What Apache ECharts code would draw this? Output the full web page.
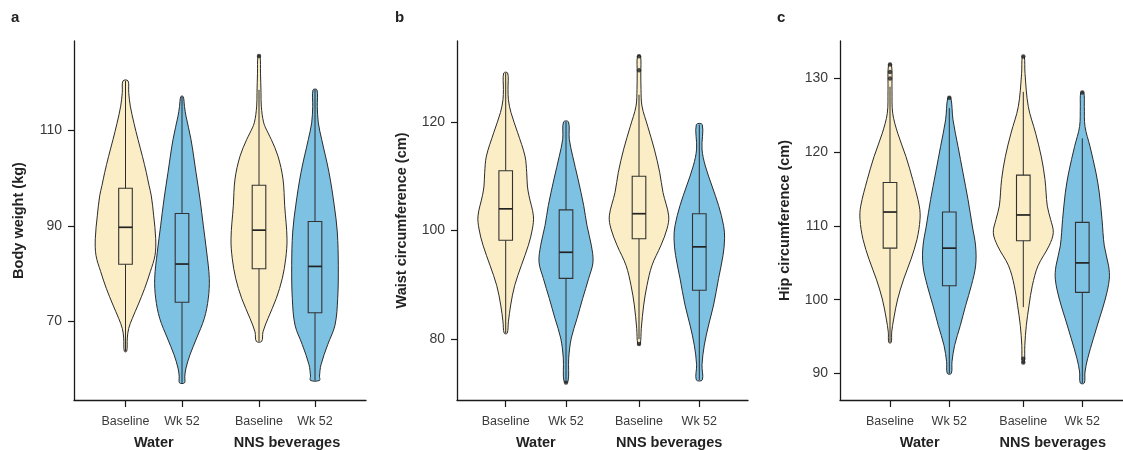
<!DOCTYPE html>
<html>
<head>
<meta charset="utf-8">
<script src="https://cdn.jsdelivr.net/npm/echarts@6/dist/echarts.min.js"></script>
<style>
  html, body { margin: 0; padding: 0; background: #fff; }
  #chart { width: 1123px; height: 450px; }
</style>
</head>
<body>
<div id="chart"></div>
<script>
// categories
const groups = ['Water', 'NNS beverages'];
const timepoints = ['Baseline', 'Wk 52'];
const panelLetters = ['a', 'b', 'c'];
const yTitles = ['Body weight (kg)', 'Waist circumference (cm)', 'Hip circumference (cm)'];

// y tick labels
const weightTicks = [70, 90, 110];
const waistTicks = [80, 100, 120];
const hipTicks = [90, 100, 110, 120, 130];

// violin outlines: [value, half width] from top to bottom
// order: Water Baseline, Water Wk 52, NNS Baseline, NNS Wk 52
const weightViolins = [
  [[120.4, 2.5], [118, 3.2], [115.1, 4.8], [111.5, 8.5], [108.1, 12.5], [104.5, 17], [101.2, 20.8], [98.5, 23.5], [96.3, 25.8], [92.1, 28.2], [87.3, 30.2], [83.8, 29.5], [80.4, 24.8], [76.9, 19.2], [73.4, 12.5], [70.6, 6.8], [68.5, 3.2], [66.5, 1.8], [63.7, 1.2]],
  [[117.1, 1.2], [115, 2.5], [113, 4], [108.1, 9], [101.2, 14], [95.6, 18], [90.1, 21.3], [84.5, 24.7], [79, 27.3], [74.8, 26.3], [70.6, 22.3], [66.5, 14.7], [63, 8], [60.2, 4], [58.5, 2.8], [57.1, 2.5]],
  [[125.6, 1], [122, 1.5], [118, 2], [115.1, 2.3], [111.6, 4.7], [109.5, 9], [108.1, 12.3], [104.6, 19], [99.8, 24], [94.2, 25.7], [87.3, 28], [83.1, 26.7], [79, 23.3], [74.8, 17.3], [70.6, 9], [67.8, 4], [65.8, 2.7]],
  [[118.5, 2], [115, 2.3], [111.6, 3.3], [108.1, 6.7], [101.2, 14], [94.2, 19.3], [88.7, 22.3], [81.7, 23.3], [74.8, 22.7], [69.2, 20], [65.1, 12.7], [60.9, 6], [58.5, 4.5], [57.6, 4.5]]
];
const waistViolins = [
  [[129, 2], [126, 2.3], [124.1, 2.7], [121.7, 5.3], [118, 12], [113.7, 19.3], [110.7, 21], [108.2, 21.7], [106.4, 23.3], [102.7, 27.7], [100.3, 26.7], [97.3, 22.7], [93.6, 15.7], [89.9, 9], [86.3, 5], [83.2, 2.7], [81.1, 1.5]],
  [[120, 2.5], [116.8, 3.3], [113.7, 6.7], [109.5, 12], [104.6, 17.7], [100.9, 21], [97.3, 25.3], [94.2, 27], [91.2, 22.7], [87.5, 16.7], [83.8, 11], [80.2, 5.3], [76.5, 2.7], [72.2, 2]],
  [[132.1, 1.5], [129, 1.8], [126, 2], [122.9, 3], [119.2, 8.7], [115, 15.3], [110.7, 20.7], [107, 24], [102.7, 29.7], [100.3, 28], [97.3, 22], [93.6, 13], [89.9, 8], [86.3, 4.7], [82, 2.3], [79.1, 1.2]],
  [[119.5, 3], [115, 2.7], [111.9, 6], [108.2, 12.7], [104.6, 19.3], [100.9, 24.3], [98.5, 25.3], [95.4, 23.7], [91.2, 19.3], [86.3, 14.3], [82.6, 9.3], [78.9, 5], [75.3, 2.7], [72.5, 3]]
];
const hipViolins = [
  [[131.9, 1.5], [128.4, 2], [125.3, 2.7], [122.6, 7.7], [119.4, 16], [116.3, 22.7], [112.7, 29.3], [110.9, 30], [108.2, 27], [105.5, 21], [102.8, 13.7], [100.1, 7.7], [97.4, 3.7], [95.6, 1.7], [94.2, 1.2]],
  [[127.4, 1.5], [124.4, 3.7], [120.8, 8.7], [117.2, 13.7], [113.6, 18.7], [110, 23], [107.3, 26.3], [104.6, 26.3], [101.9, 22], [99.2, 16.3], [96.5, 11], [93.8, 5.3], [91.6, 2.7], [90, 2]],
  [[133, 1], [130.7, 1.7], [126.2, 5], [122.6, 12.3], [119.4, 18], [116.3, 21.7], [112.7, 24], [110.9, 27.3], [109.1, 30], [107.3, 25.7], [104.6, 14.7], [101.9, 9], [99.2, 5.7], [96.5, 3], [93.8, 1.5], [91.5, 1]],
  [[128.1, 1.5], [126.2, 2], [123.5, 2.7], [120.8, 7.7], [117.2, 13.7], [114.5, 17], [110.9, 19.7], [107.3, 22], [104.6, 26.3], [102.8, 27], [100.1, 23], [97.4, 17], [94.7, 11], [92, 5.3], [90.2, 2.7], [88.7, 2]]
];

// box stats: [lower whisker, Q1, median, Q3, upper whisker]
const weightBoxes = [[63.7, 81.95, 89.7, 97.9, 120.4], [57.1, 74.0, 82.0, 92.6, 117.1], [65.8, 81.0, 89.1, 98.5, 118.5], [57.6, 71.8, 81.5, 90.9, 118.5]];
const waistBoxes = [[81.1, 98.2, 104.0, 111.0, 129.0], [72.5, 91.2, 96.0, 103.8, 120.0], [80.0, 98.5, 103.1, 110.0, 125.0], [72.5, 89.0, 97.0, 103.1, 119.5]];
const hipBoxes = [[94.2, 107.0, 111.9, 115.9, 128.9], [90.0, 101.9, 107.0, 111.9, 126.0], [99.0, 108.0, 111.5, 116.9, 128.2], [88.7, 101.0, 105.0, 110.5, 121.9]];

// outliers per violin
const weightOutliers = [[], [], [125.6], []];
const waistOutliers = [[], [72.0], [132.1, 129.5, 79.1], []];
const hipOutliers = [[131.9, 130.9, 130.0], [127.4], [133.0, 92.0, 91.5], [128.1]];

// layout
const fills = ['#fbedc5', '#7dc1e3'];
const panels = [
  { left: 74, width: 292, yMin: 53.5, yMax: 128.75, ticks: weightTicks, xs: [51.5, 108, 185, 241], violins: weightViolins, boxes: weightBoxes, outliers: weightOutliers },
  { left: 457, width: 291, yMin: 68.8, yMax: 134.9, ticks: waistTicks, xs: [48.7, 109, 182, 242.3], violins: waistViolins, boxes: waistBoxes, outliers: waistOutliers },
  { left: 840, width: 283, yMin: 86.4, yMax: 135.1, ticks: hipTicks, xs: [50, 109.3, 183.3, 242.3], violins: hipViolins, boxes: hipBoxes, outliers: hipOutliers }
];
const FONT = 'Liberation Sans, Arial, sans-serif';
const BOX_HALF = 6.8;

const grid = [];
const xAxis = [];
const yAxis = [];
const series = [];
const title = [];

panels.forEach((p, k) => {
  grid.push({ left: p.left, top: 41, width: p.width, height: 361 });
  const mids = [(p.xs[0] + p.xs[1]) / 2, (p.xs[2] + p.xs[3]) / 2];
  xAxis.push({
    type: 'value', gridIndex: k, min: 0, max: p.width, position: 'bottom',
    splitLine: { show: false },
    axisLine: { lineStyle: { color: '#1a1a1a', width: 1.3 } },
    axisTick: { customValues: p.xs, length: 7, lineStyle: { color: '#1a1a1a', width: 1.2 } },
    axisLabel: {
      customValues: p.xs, margin: 15, fontSize: 12.5, color: '#3a3a3a', fontFamily: FONT,
      formatter: (v) => timepoints[p.xs.indexOf(v) % 2]
    }
  });
  // group names under the tick labels
  xAxis.push({
    type: 'value', gridIndex: k, min: 0, max: p.width, position: 'bottom', offset: 0,
    splitLine: { show: false }, axisLine: { show: false }, axisTick: { show: false },
    axisLabel: {
      customValues: mids, margin: 35, fontSize: 14.5, fontWeight: 'bold', color: '#222', fontFamily: FONT,
      formatter: (v) => groups[mids.indexOf(v)]
    }
  });
  yAxis.push({
    type: 'value', gridIndex: k, min: p.yMin, max: p.yMax,
    splitLine: { show: false },
    axisLine: { show: true, lineStyle: { color: '#1a1a1a', width: 1.3 } },
    axisTick: { customValues: p.ticks, length: 6, lineStyle: { color: '#1a1a1a', width: 1.2 } },
    axisLabel: { customValues: p.ticks, margin: 12, fontSize: 14, color: '#3a3a3a', fontFamily: FONT },
    name: yTitles[k], nameLocation: 'middle', nameGap: 48,
    nameTextStyle: { fontSize: 14.5, fontWeight: 'bold', color: '#222', fontFamily: FONT }
  });
  title.push({
    text: panelLetters[k], left: [11, 395, 777][k], top: 10, padding: 0,
    textStyle: { fontSize: 15, fontWeight: 'bold', color: '#222', fontFamily: FONT }
  });

  // violins
  series.push({
    type: 'custom', xAxisIndex: 2 * k, yAxisIndex: k, z: 2,
    data: p.xs.map((x, i) => [x, p.boxes[i][2]]),
    renderItem: (params, api) => {
      const i = params.dataIndex;
      const cx = p.xs[i];
      const prof = p.violins[i];
      const leftSide = prof.map(([v, hw]) => api.coord([cx - hw, v]));
      const rightSide = prof.slice().reverse().map(([v, hw]) => api.coord([cx + hw, v]));
      return {
        type: 'polygon',
        shape: { points: leftSide.concat(rightSide), smooth: 0.35 },
        style: { fill: fills[i % 2], stroke: '#2b2b2b', lineWidth: 1 }
      };
    }
  });

  // boxes with whiskers
  series.push({
    type: 'custom', xAxisIndex: 2 * k, yAxisIndex: k, z: 3,
    data: p.xs.map((x, i) => [x, p.boxes[i][2]]),
    renderItem: (params, api) => {
      const i = params.dataIndex;
      const cx = p.xs[i];
      const [lo, q1, med, q3, hi] = p.boxes[i];
      const pLo = api.coord([cx, lo]);
      const pHi = api.coord([cx, hi]);
      const tl = api.coord([cx - BOX_HALF, q3]);
      const br = api.coord([cx + BOX_HALF, q1]);
      const ml = api.coord([cx - BOX_HALF, med]);
      const mr = api.coord([cx + BOX_HALF, med]);
      return {
        type: 'group',
        children: [
          { type: 'line', shape: { x1: pLo[0], y1: pLo[1], x2: pHi[0], y2: pHi[1] }, style: { stroke: '#2b2b2b', lineWidth: 1 } },
          { type: 'rect', shape: { x: tl[0], y: tl[1], width: br[0] - tl[0], height: br[1] - tl[1] }, style: { fill: fills[i % 2], stroke: '#333', lineWidth: 1.1 } },
          { type: 'line', shape: { x1: ml[0], y1: ml[1], x2: mr[0], y2: mr[1] }, style: { stroke: '#222', lineWidth: 1.7 } }
        ]
      };
    }
  });

  // outliers
  const pts = [];
  p.outliers.forEach((list, i) => list.forEach((v) => pts.push([p.xs[i], v])));
  series.push({
    type: 'scatter', xAxisIndex: 2 * k, yAxisIndex: k, z: 4,
    symbolSize: 4.5, itemStyle: { color: '#222' }, data: pts, silent: true
  });
});

const chart = echarts.init(document.getElementById('chart'), null, { renderer: 'canvas' });
chart.setOption({
  animation: false,
  backgroundColor: '#fff',
  title, grid, xAxis, yAxis, series
});
</script>
</body>
</html>
